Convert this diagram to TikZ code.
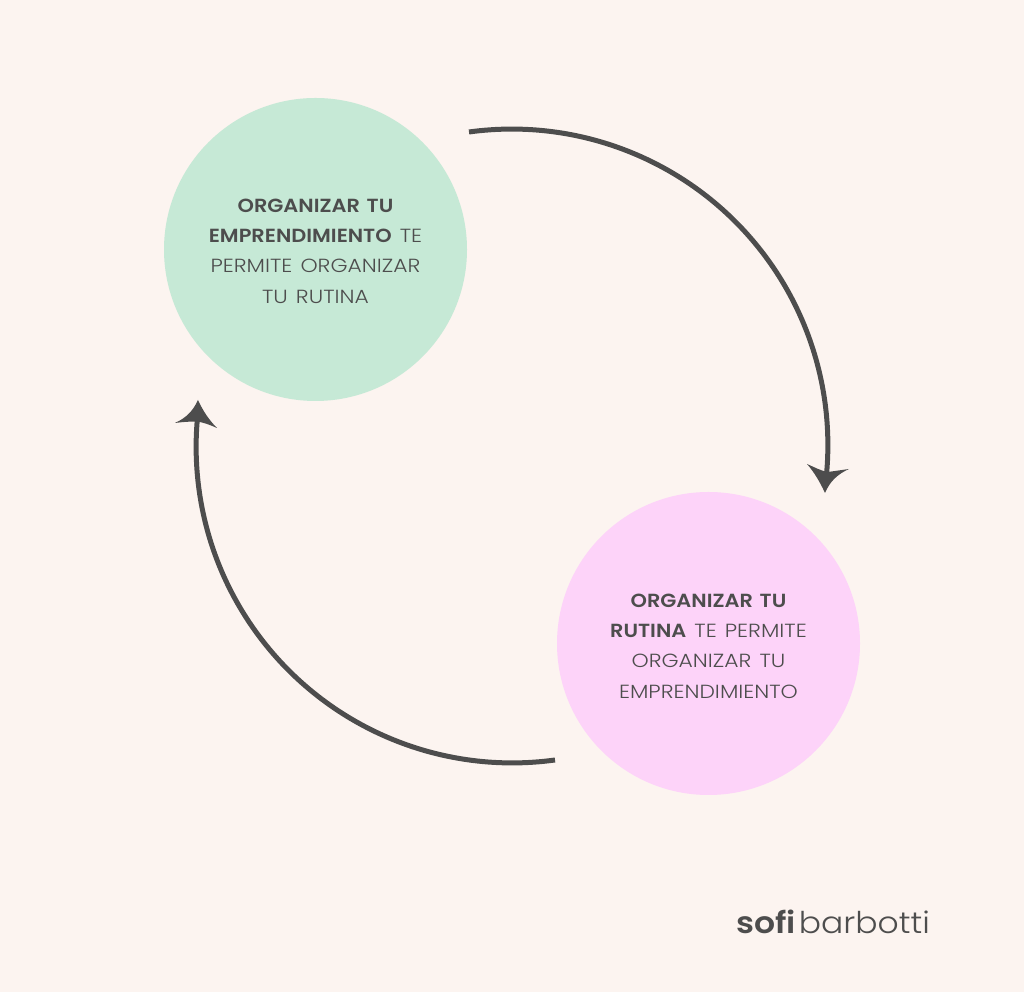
\documentclass[tikz,border=0pt]{standalone}
\usepackage{fontspec}
\setmainfont{Poppins}[UprightFont=* Light,BoldFont=* SemiBold,UprightFeatures={FakeStretch=1.15},BoldFeatures={FakeStretch=1.10},WordSpace=1.35]
\newfontfamily\logofont{Poppins}[UprightFont=* Light,BoldFont=* SemiBold,UprightFeatures={FakeStretch=1.10},BoldFeatures={FakeStretch=1.10}]
\definecolor{bgc}{HTML}{FCF4F0}
\definecolor{greenc}{HTML}{C6E9D6}
\definecolor{pinkc}{HTML}{FDD3F9}
\definecolor{darkc}{HTML}{4D4D4D}
\tikzset{
  bubble/.style={circle,minimum size=303pt,inner sep=0pt},
  bubbletext/.style={inner sep=0pt,align=center,text=darkc,
    font=\fontsize{19}{30.4}\selectfont},
  looparc/.style={draw=darkc,line width=5pt},
  headfill/.style={fill=darkc,draw=none},
}
\begin{document}
\begin{tikzpicture}[x=1pt,y=1pt]
\useasboundingbox (0,0) rectangle (1024,992);
\fill[bgc] (0,0) rectangle (1024,992);
\node[bubble,fill=greenc] (emp) at (315.5,742.5) {};
\node[bubble,fill=pinkc] (rut) at (708.5,348.5) {};
\node[bubbletext,yshift=-1.5pt] (emptext) at (emp.center) {\textbf{ORGANIZAR TU}\\\textbf{EMPRENDIMIENTO} TE\\PERMITE ORGANIZAR\\TU RUTINA};
\node[bubbletext,yshift=-2.5pt] (ruttext) at (rut.center) {\textbf{ORGANIZAR TU}\\\textbf{RUTINA} TE PERMITE\\ORGANIZAR TU\\EMPRENDIMIENTO};
\coordinate (s1) at (469,860);
\coordinate (s2) at (555,232);
\draw[looparc] (s1) arc[start angle=97.8,end angle=-5.5,radius=316];
\draw[looparc] (s2) arc[start angle=277.8,end angle=175,radius=316];
\fill[headfill] (825,499) .. controls (820,510) and (814,520) .. (807,528) .. controls (814,525) and (821,521) .. (828,520) .. controls (835,521) and (842,522) .. (849,523) .. controls (838,518) and (830,511) .. (825,499) -- cycle;
\fill[headfill] (198,592) .. controls (203,581) and (209,572) .. (217,564) .. controls (210,567) and (203,570) .. (196,570.5) .. controls (190,570.5) and (182,570) .. (175,569) .. controls (186,574) and (193,581) .. (198,592) -- cycle;
\node[anchor=base east,inner sep=0pt,text=darkc,font=\logofont\fontsize{30}{30}\selectfont] (logo) at (930,58.5) {\textbf{sofi}\kern3pt barbotti};
\end{tikzpicture}
\end{document}
